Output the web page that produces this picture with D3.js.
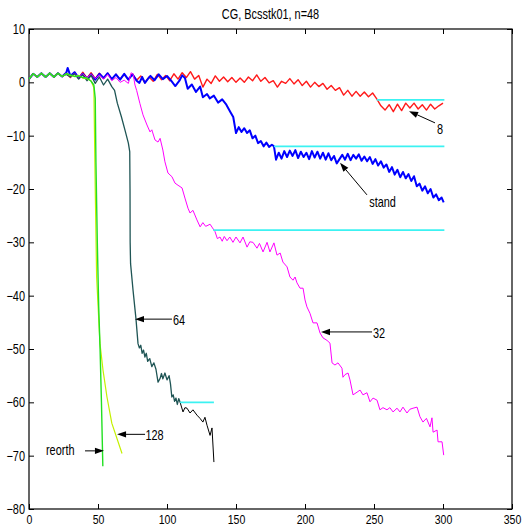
<!DOCTYPE html>
<html>
<head>
<meta charset="utf-8">
<script src="https://cdn.jsdelivr.net/npm/d3@7"></script>
<style>
  html, body { margin: 0; padding: 0; background: #fff; }
  svg text { font-family: "Liberation Sans", Arial, Helvetica, sans-serif; fill: #000; }
</style>
</head>
<body>
<svg id="chart" width="524" height="527"></svg>
<script>
// Axis ticks
const xTicks = [0, 50, 100, 150, 200, 250, 300, 350];
const yTicks = [10, 0, -10, -20, -30, -40, -50, -60, -70, -80];

// Common first iterations shared by every run (log10 of the residual)
const startIters = [[0,0.6],[3,1.6],[6,1.0],[9,1.7],[12,1.0],[15,1.7],[18,1.0],[21,1.7],[24,1.1]];

// Restart every 8 iterations
const run8 = [[27,1.8],[30,0.9],[33,1.9],[36,0.8],[39,1.9],[42,0.8],[45,1.8],[48,0.7],[51,1.7],[54,0.7],
  [57,1.7],[60,0.6],[63,1.5],[66,0.6],[69,1.5],[72,0.5],[75,1.6],[78,0.4],[81,1.2],[84,-0.1],[87,1.0],
  [90,0.2],[93,1.5],[96,0.5],[99,1.3],[102,0.3],[105,1.6],[108,0.6],[111,1.8],[114,0.9],[117,2.0],
  [120,0.6],[123,1.3],[126,-0.9],[129,0.6],[132,-0.2],[135,1.2],[138,0.2],[141,1.0],[144,0.1],[147,0.9],
  [150,0.0],[153,0.8],[156,0.0],[159,1.0],[162,0.3],[165,1.4],[168,0.2],[171,0.9],[174,-0.1],[177,0.3],
  [180,-0.9],[183,0.2],[186,-0.2],[189,0.7],[192,-0.3],[195,0.5],[198,-0.6],[201,0.2],[204,-0.9],
  [207,0.0],[210,-0.8],[213,-0.2],[216,-1.3],[219,-0.6],[222,-1.5],[225,-1.0],[228,-2.4],[231,-1.5],
  [234,-2.6],[237,-1.7],[240,-2.6],[243,-1.8],[246,-2.7],[249,-2.0],[252,-3.1],[255,-4.4],[258,-5.2],
  [261,-4.2],[264,-5.5],[267,-4.1],[270,-5.3],[273,-3.9],[276,-4.8],[279,-3.9],[282,-5.0],[285,-4.2],
  [288,-5.2],[291,-4.1],[294,-5.0],[297,-4.4],[300,-3.9]];

// Standard CG
const runStand = [[27,1.8],[28,2.7],[30,1.2],[33,1.9],[36,0.8],[39,1.6],[42,0.7],[45,1.5],[48,0.5],
  [51,1.6],[54,0.8],[57,1.7],[60,0.6],[63,1.5],[66,0.5],[69,1.6],[72,0.5],[75,1.5],[78,0.3],[80,-0.1],
  [82,1.0],[84,-0.1],[86,0.6],[88,1.2],[91,0.4],[94,1.5],[97,0.6],[100,1.2],[103,0.3],[106,-0.7],
  [109,0.3],[111,1.3],[113,0.8],[115,-1.2],[118,-0.4],[121,-1.8],[124,-0.8],[126,-2.8],[129,-2.2],
  [131,-3.0],[134,-2.5],[137,-3.8],[140,-3.2],[143,-4.2],[146,-5.6],[148,-6.5],[150,-9.5],[152,-8.4],
  [154,-9.3],[156,-8.6],[158,-9.5],[160,-9.0],[162,-10.5],[164,-10.0],[166,-11.4],[168,-11.0],
  [170,-12.0],[172,-11.3],[174,-12.1],[176,-11.7],[177.5,-12.0],[179,-14.5],[181,-13.2],[183,-14.3],
  [185,-12.9],[187,-14.0],[189,-12.8],[191,-13.8],[193,-12.7],[195,-14.2],[197,-13.0],[199,-14.0],
  [201,-13.2],[203,-14.4],[205,-12.9],[207,-14.1],[209,-13.0],[211,-14.3],[213,-13.2],[215,-14.5],
  [217,-13.3],[219,-14.6],[221,-13.8],[223,-15.2],[225,-14.4],[227,-13.6],[229,-14.5],[231,-13.4],
  [233,-14.6],[235,-13.6],[237,-14.3],[239,-13.5],[241,-14.7],[243,-13.9],[245,-14.8],[247,-14.0],
  [249,-15.3],[251,-14.4],[253,-15.6],[255,-14.8],[257,-16.0],[259,-15.4],[261,-16.8],[263,-15.9],
  [265,-17.3],[267,-16.4],[269,-17.8],[271,-16.8],[273,-18.0],[275,-17.2],[277,-18.5],[279,-17.6],
  [281,-19.5],[283,-19.0],[285,-20.3],[287,-19.5],[289,-20.8],[291,-20.0],[293,-21.6],[295,-21.0],
  [297,-22.1],[299,-21.6],[300.5,-22.5]];

// Restart every 32 iterations
const run32 = [[27,1.6],[30,1.0],[33,1.7],[36,0.9],[39,1.6],[42,0.8],[45,1.5],[48,0.7],[51,1.4],
  [54,0.6],[57,1.5],[60,0.3],[63,0.9],[66,0.0],[69,0.4],[72,-0.2],[74,1.8],[75.5,1.5],[76.8,-0.5],
  [78,-1.5],[80.4,-4.0],[82.6,-6.1],[85.5,-8.0],[87.7,-9.3],[89,-8.9],[91.3,-10.8],[93.5,-11.2],
  [95,-10.5],[97,-12.7],[98.5,-14.9],[100.7,-17.0],[103.6,-17.7],[105.8,-18.9],[108,-19.3],
  [110.9,-19.8],[113,-21.7],[115.2,-23.6],[116.7,-24.5],[118.8,-24.0],[121.7,-25.8],[124,-27.1],
  [126,-26.3],[128,-27.0],[129.7,-26.8],[131.2,-26.6],[133,-27.3],[134.8,-28.0],[136.5,-29.3],
  [138.4,-29.0],[140,-29.8],[141.5,-28.9],[143.5,-29.7],[145.5,-29.0],[147.8,-30.0],[150,-29.0],
  [152.9,-30.1],[155.1,-29.0],[158,-30.9],[160,-29.9],[162.3,-30.0],[165.2,-31.1],[167,-30.2],
  [169.6,-31.8],[172.5,-30.0],[174.6,-31.8],[177.5,-30.1],[179.7,-32.4],[182,-32.0],[184,-33.7],
  [187,-34.6],[189.1,-36.5],[191.3,-37.1],[192.8,-36.5],[194.2,-37.6],[196.4,-38.6],[198.6,-38.6],
  [200,-40.8],[201.4,-42.1],[203.6,-43.3],[205.8,-45.1],[208.7,-45.1],[210.9,-47.0],[213,-47.9],
  [216,-48.4],[218.1,-48.9],[219.6,-52.6],[221.7,-53.0],[223.9,-52.6],[226.8,-53.6],[227.5,-55.3],
  [229,-54.8],[231.2,-54.5],[232.6,-55.8],[234.8,-58.6],[237.7,-58.1],[239.9,-57.7],[242,-58.6],
  [244.9,-58.2],[247.1,-59.9],[249.3,-59.2],[252.2,-59.6],[254.3,-61.4],[256.5,-61.0],[259.4,-61.4],
  [261.5,-61.0],[263.8,-61.8],[266.7,-61.1],[268.8,-61.8],[271,-60.9],[273.9,-62.0],[276,-61.3],
  [278.3,-61.1],[281.2,-60.9],[283.3,-62.7],[285.5,-63.7],[288,-63.0],[290.6,-64.6],[292,-62.9],
  [292.8,-65.6],[295.7,-65.2],[296.4,-67.4],[299.3,-67.4],[300.5,-69.9]];

// Restart every 64 iterations: before and after reaching its attainable level
const run64 = [[27,1.5],[30,1.0],[33,1.6],[36,0.6],[39,1.4],[42,0.3],[45,1.3],[48,-0.2],[51,1.0],
  [54,-0.5],[57,0.6],[60,-0.8],[62,-1.5],[64,-3.9],[67,-6.5],[69.6,-9.0],[72,-11.4],[73,-13.0],
  [73.2,-20.0],[73.3,-30.0],[73.6,-34.0],[75.4,-39.0],[77.5,-44.3],[79,-49.0],[80,-49.8],[81,-49.3],
  [82,-50.8],[83,-50.2],[84,-51.5],[85,-50.8],[86,-52.3],[87.5,-51.8],[89,-53.3],[90.5,-52.6],
  [92,-53.8],[93.5,-56.2],[95,-55.5],[96,-54.6],[97,-55.6],[98.5,-54.5],[100,-55.8],[101.5,-55.0],
  [102.5,-56.5],[103.5,-59.0],[104.5,-58.6],[105.5,-59.8],[106.5,-59.2],[107.5,-60.4],[108.5,-59.3],
  [109.5,-60.0]];
const run64Tail = [[109.5,-60.0],[111.6,-61.8],[113,-61.0],[114.5,-61.1],[116.7,-62.0],[118.8,-61.4],
  [121.7,-62.4],[123.9,-63.0],[126,-63.7],[127.5,-62.8],[129,-64.3],[131.2,-66.2],[132.6,-64.8],
  [134,-71.2]];

// Restart every 128 iterations
const run128 = [[27,1.6],[30,1.3],[33,1.1],[36,1.3],[39,0.8],[42,0.7],[45,0.3],[47,-1.0],[48,-20.0],
  [49,-36.5],[51.4,-48.9],[53.6,-53.9],[56.5,-59.0],[60,-63.9],[67.4,-69.6]];

// Full reorthogonalization
const runReorth = [[27,1.6],[30,1.4],[33,1.1],[36,1.2],[39,0.9],[42,0.8],[45,0.2],[47,-0.5],
  [48,-3.0],[48.5,-15.0],[49.5,-30.0],[50.5,-42.0],[51.5,-50.0],[52.5,-60.0],[53.5,-72.0]];

// Attainable accuracy levels: [level, first iteration, last iteration]
const floorLevels = [[-3.3,252,301],[-12.0,177.5,301],[-27.7,133.5,301],[-60.0,109.5,134]];

const svg = d3.select("#chart");
const x = d3.scaleLinear().domain([0, 350]).range([29, 512]);
const y = d3.scaleLinear().domain([-80, 10]).range([509, 29]);
const SQ = 0.78; // horizontal squeeze of the lettering

const fmt = d => d < 0 ? "\u2212" + Math.abs(d) : String(d);

// Frame
svg.append("rect")
  .attr("x", x(0)).attr("y", y(10))
  .attr("width", x(350) - x(0)).attr("height", y(-80) - y(10))
  .attr("fill", "none").attr("stroke", "#000").attr("stroke-width", 1.2);

// Axes, ticks pointing inward
const gB = svg.append("g").attr("transform", `translate(0,${y(-80)})`)
  .call(d3.axisBottom(x).tickValues(xTicks).tickSizeInner(-5).tickSizeOuter(0).tickPadding(5.2).tickFormat(fmt));
const gT = svg.append("g").attr("transform", `translate(0,${y(10)})`)
  .call(d3.axisTop(x).tickValues(xTicks).tickSizeInner(-5).tickSizeOuter(0).tickFormat(""));
const gL = svg.append("g").attr("transform", `translate(${x(0)},0)`)
  .call(d3.axisLeft(y).tickValues(yTicks).tickSizeInner(-5).tickSizeOuter(0).tickPadding(4).tickFormat(fmt));
const gR = svg.append("g").attr("transform", `translate(${x(350)},0)`)
  .call(d3.axisRight(y).tickValues(yTicks).tickSizeInner(-5).tickSizeOuter(0).tickFormat(""));

[gB, gT, gL, gR].forEach(g => {
  g.select(".domain").remove();
  g.selectAll("line").attr("stroke", "#000");
  g.selectAll("text").attr("font-size", 14).attr("fill", "#000")
    .attr("font-family", "'Liberation Sans', Arial, sans-serif");
});
gB.selectAll("text").attr("font-size", 13.5).attr("transform", `scale(${SQ},1)`);
gL.selectAll("text").attr("x", -4 / SQ).attr("transform", `scale(${SQ},1)`);

// Title
svg.append("g").attr("transform", `translate(${(x(0) + x(350)) / 2},19) scale(${SQ},1)`)
  .append("text").attr("text-anchor", "middle").attr("font-size", 14)
  .text("CG, Bcsstk01, n=48");

const line = d3.line().x(d => x(d[0])).y(d => y(d[1]));
const plot = svg.append("g");

const curves = [
  { data: startIters.concat(run8), color: "#ff1a1a", w: 1.4 },
  { data: startIters.concat(runStand), color: "#0000ff", w: 2.0 },
  { data: startIters.concat(run32), color: "#ff00ff", w: 1.0 },
  { data: startIters.concat(run64), color: "#1f5555", w: 1.3 },
  { data: run64Tail, color: "#000000", w: 1.0 },
  { data: startIters.concat(run128), color: "#c4f000", w: 1.2 },
  { data: startIters.concat(runReorth), color: "#22e022", w: 1.4 }
];
curves.forEach(c => {
  plot.append("path").datum(c.data)
    .attr("d", line).attr("fill", "none")
    .attr("stroke", c.color).attr("stroke-width", c.w)
    .attr("stroke-linejoin", "round");
});

// Attainable accuracy levels
plot.selectAll(".floor").data(floorLevels).enter().append("line")
  .attr("class", "floor")
  .attr("x1", d => x(d[1])).attr("x2", d => x(d[2]))
  .attr("y1", d => y(d[0])).attr("y2", d => y(d[0]))
  .attr("stroke", "#3cf2f2").attr("stroke-width", 1.8);

// Labels with arrows: [text, tail x, tail y, tip x, tip y, text x, text baseline y]
const notes = [
  ["8", 294.2, -7.6, 275.4, -5.4, 295.7, -9.6],
  ["stand", 244.9, -21.1, 225.4, -15.1, 246.5, -23.4],
  ["32", 248.6, -46.8, 211.6, -46.8, 249.3, -47.9],
  ["64", 103.6, -44.4, 76.8, -44.4, 104.3, -45.5],
  ["128", 84.1, -66.0, 63.8, -66.0, 84.4, -67.1],
  ["reorth", 40.6, -69.1, 54.3, -69.1, 12.3, -69.9]
];
const ann = svg.append("g");
notes.forEach(n => {
  const x0 = x(n[1]), y0 = y(n[2]), x1 = x(n[3]), y1 = y(n[4]);
  const a = Math.atan2(y1 - y0, x1 - x0);
  const L = 9, W = 3.2;
  const bx = x1 - L * Math.cos(a), by = y1 - L * Math.sin(a);
  ann.append("line").attr("x1", x0).attr("y1", y0).attr("x2", bx).attr("y2", by)
    .attr("stroke", "#000").attr("stroke-width", 1);
  ann.append("path")
    .attr("d", `M${x1},${y1}L${bx - W * Math.sin(a)},${by + W * Math.cos(a)}L${bx + W * Math.sin(a)},${by - W * Math.cos(a)}Z`)
    .attr("fill", "#000");
  ann.append("g").attr("transform", `translate(${x(n[5])},${y(n[6])}) scale(${SQ},1)`)
    .append("text").attr("font-size", 14).text(n[0]);
});
</script>
</body>
</html>
